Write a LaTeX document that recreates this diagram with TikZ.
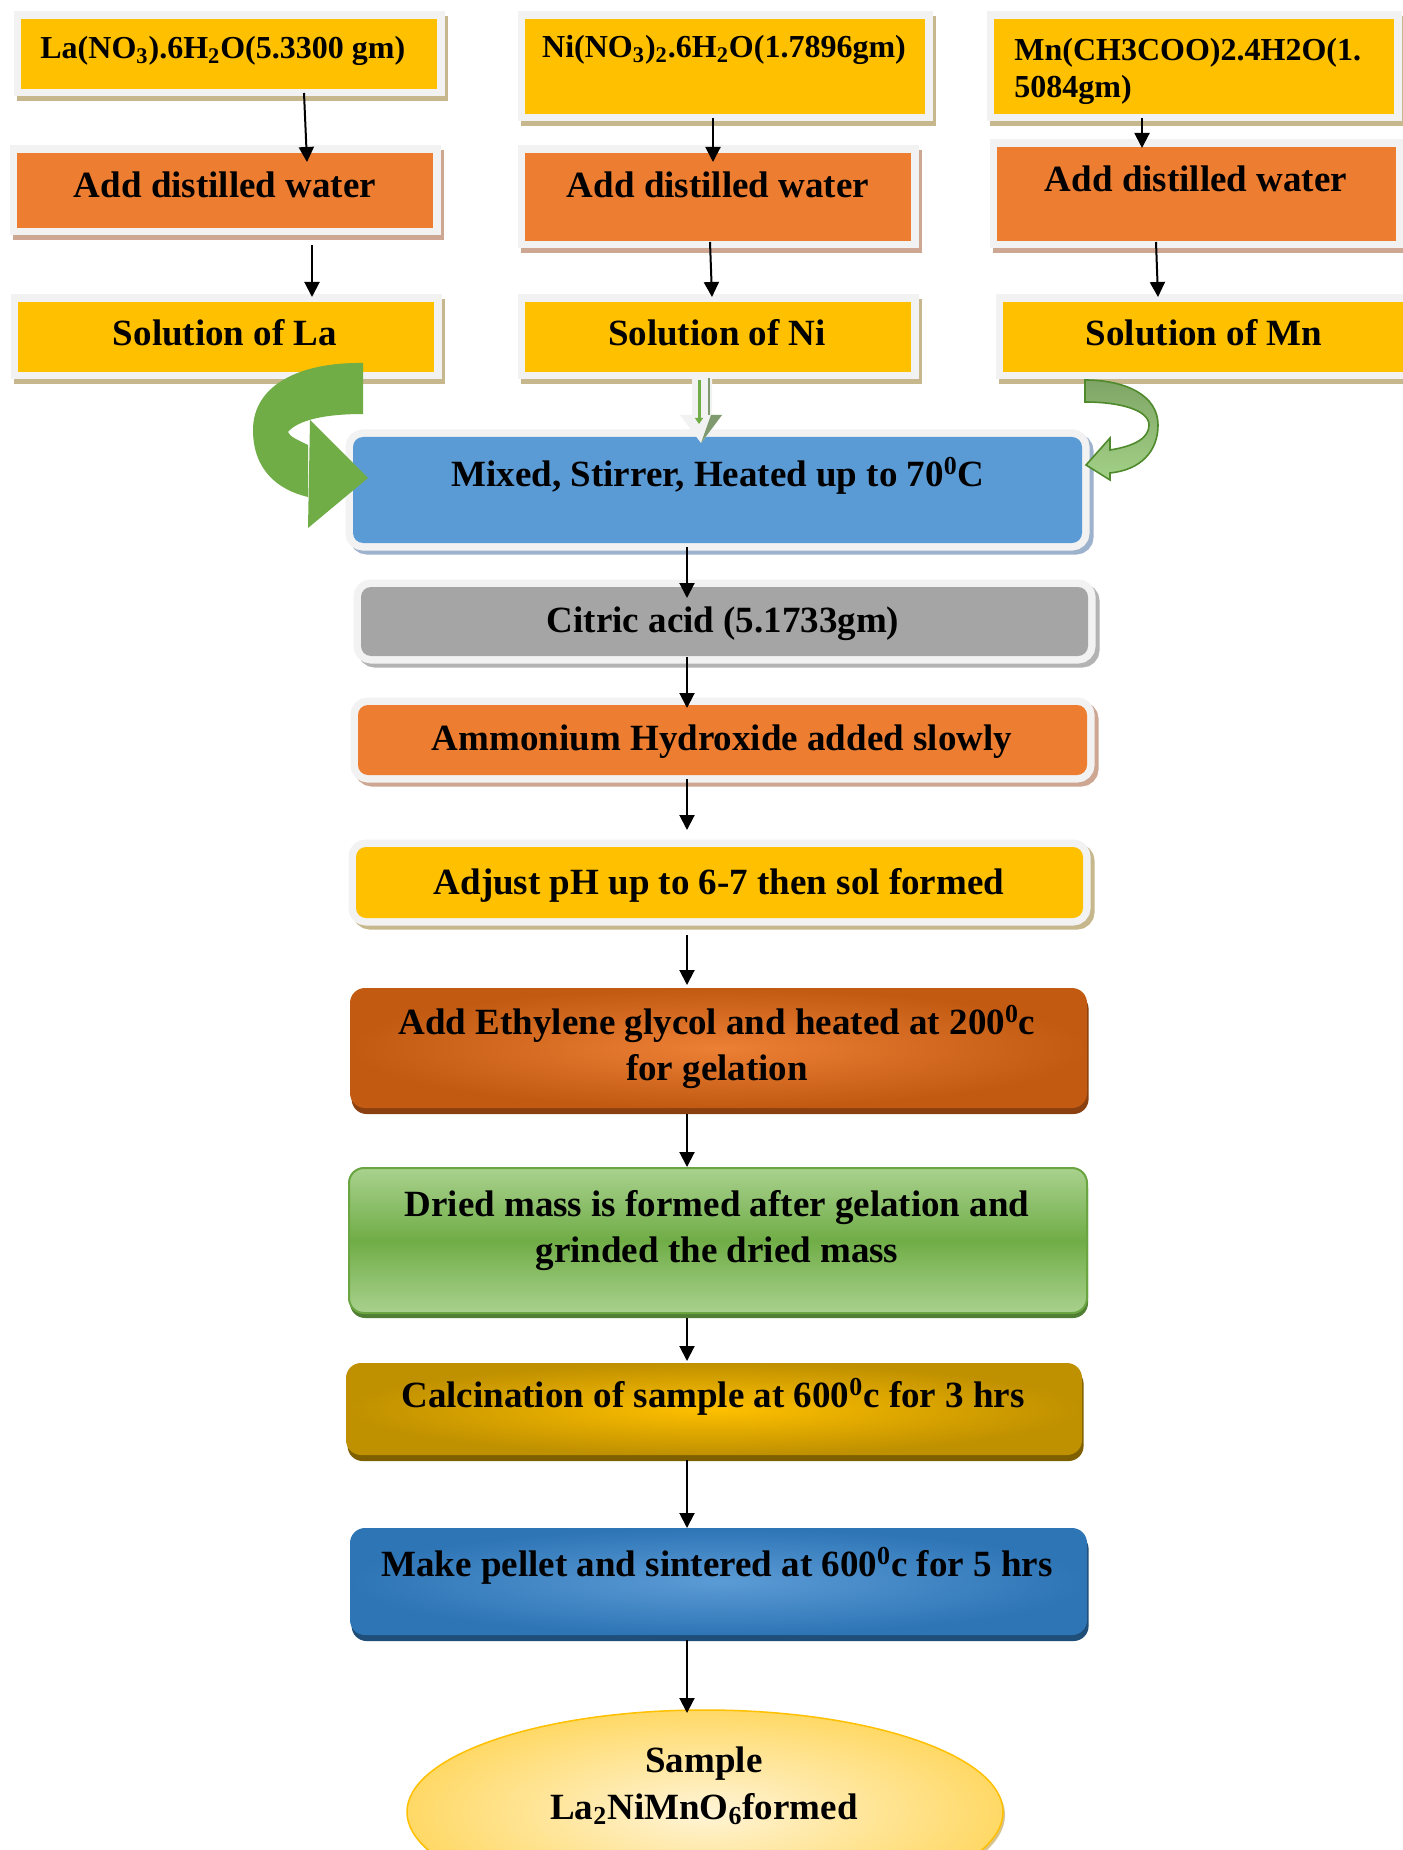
\documentclass[tikz,border=0pt]{standalone}
\usepackage{fontspec}
\setmainfont{Liberation Serif}
\usetikzlibrary{calc,arrows.meta,shapes.geometric}
\definecolor{yel}{HTML}{FFC000}
\definecolor{org}{HTML}{ED7D31}
\definecolor{blu}{HTML}{5B9BD5}
\definecolor{gry}{HTML}{A5A5A5}
\definecolor{frm}{HTML}{F2F2F2}
\definecolor{shY}{HTML}{C7B78C}
\definecolor{shO}{HTML}{CDA792}
\definecolor{shB}{HTML}{9DB2CC}
\definecolor{shG}{HTML}{B3B3B3}
\definecolor{ethIn}{HTML}{EC8035}
\definecolor{ethOut}{HTML}{C25A12}
\definecolor{ethSh}{HTML}{8A400F}
\definecolor{dryL}{HTML}{A9D18E}
\definecolor{dryM}{HTML}{70AD47}
\definecolor{dryB}{HTML}{6AA542}
\definecolor{drySh}{HTML}{507E32}
\definecolor{calIn}{HTML}{FFC000}
\definecolor{calOut}{HTML}{BF9000}
\definecolor{calSh}{HTML}{7F6000}
\definecolor{pelIn}{HTML}{5B9BD5}
\definecolor{pelOut}{HTML}{2E75B6}
\definecolor{pelSh}{HTML}{1F4E79}
\definecolor{ellIn}{HTML}{FFF4D6}
\definecolor{ellOut}{HTML}{FFD966}
\definecolor{ellB}{HTML}{FFC000}
\definecolor{ellSh}{HTML}{D8C48C}
\definecolor{grn}{HTML}{70AD47}
\definecolor{mnA}{HTML}{7FA566}
\definecolor{mnB}{HTML}{A3D187}
\definecolor{mnD}{HTML}{4E8A2C}
\definecolor{niSh}{HTML}{7E9A6E}
\newcommand\myBig{\fontsize{18.5}{23}\selectfont\bfseries}
\newcommand\mySmall{\fontsize{16}{18.5}\selectfont\bfseries}
\begin{document}
\begin{tikzpicture}[x=0.5pt,y=-0.5pt,
  arr/.style={line width=1pt,-{Triangle[length=7.5pt,width=7.5pt]}},
  txt/.style={inner sep=0pt,font=\myBig,text=black,align=center},
  stxt/.style={inner sep=0pt,font=\mySmall,text=black,align=left},
  sqbox/.style 2 args={rectangle,anchor=north west,inner sep=0pt,outer sep=0pt,fill=#1,
    preaction={fill=#2,draw=#2,line width=7.5pt,transform canvas={shift={(1.5pt,-2.5pt)}}},
    preaction={draw=frm,line width=7.5pt}},
  rdbox/.style 2 args={rectangle,anchor=north west,inner sep=0pt,outer sep=0pt,fill=#1,rounded corners=5pt,
    preaction={fill=#2,draw=#2,line width=7.5pt,transform canvas={shift={(2pt,-2pt)}}},
    preaction={draw=frm,line width=7.5pt}},
  gbox/.style n args={3}{rectangle,anchor=north west,inner sep=0pt,outer sep=0pt,rounded corners=7.5pt,
    inner color=#1,outer color=#2,
    preaction={fill=#3,transform canvas={shift={(0.8pt,-3pt)}}}}
]
\path[fill=white] (0,0) rectangle (1402,1850);
\useasboundingbox (0,0) rectangle (1402,1850);

% top row
\node[sqbox={yel}{shY},minimum width=208pt,minimum height=35pt] (laF) at (21,19) {};
\node[sqbox={org}{shO},minimum width=208pt,minimum height=37.5pt] (laW) at (17,153) {};
\node[sqbox={yel}{shY},minimum width=208pt,minimum height=35pt] (laS) at (18,302) {};
\node[sqbox={yel}{shY},minimum width=200pt,minimum height=47.5pt] (niF) at (525,19) {};
\node[sqbox={org}{shO},minimum width=193pt,minimum height=44pt] (niW) at (525,153) {};
\node[sqbox={yel}{shY},minimum width=193pt,minimum height=35pt] (niS) at (525,302) {};
\node[sqbox={yel}{shY},minimum width=200pt,minimum height=47.5pt] (mnF) at (994,19) {};
\node[sqbox={org}{shO},minimum width=199.5pt,minimum height=47pt] (mnW) at (997,147) {};
\node[sqbox={yel}{shY},minimum width=203.5pt,minimum height=35pt] (mnS) at (1003,302) {};

\node[stxt,anchor=west] (laFt) at (40,51) {La(NO\textsubscript{3}).6H\textsubscript{2}O(5.3300 gm)};
\node[txt] (laWt) at (225,185) {Add distilled water};
\node[txt] (laSt) at (225,333) {Solution of La};
\node[stxt] (niFt) at (724,50) {Ni(NO\textsubscript{3})\textsubscript{2}.6H\textsubscript{2}O(1.7896gm)};
\node[txt] (niWt) at (718,185) {Add distilled water};
\node[txt] (niSt) at (717,333) {Solution of Ni};
\node[stxt,anchor=west] (mnFt) at (1014,71) {Mn(CH3COO)2.4H2O(1.\\5084gm)};
\node[txt] (mnWt) at (1196,179) {Add distilled water};
\node[txt] (mnSt) at (1204,333) {Solution of Mn};

% middle column
\node[rdbox={blu}{shB},minimum width=364.5pt,minimum height=53pt] (mix) at (353,437) {};
\node[rdbox={gry}{shG},minimum width=363.5pt,minimum height=34.5pt] (cit) at (361,587) {};
\node[rdbox={org}{shO},minimum width=364.5pt,minimum height=35pt] (amm) at (358,705) {};
\node[rdbox={yel}{shY},minimum width=363.5pt,minimum height=35.5pt] (ph) at (356,847) {};
\node[gbox={ethIn}{ethOut}{ethSh},minimum width=368.5pt,minimum height=60pt] (eth) at (350,988) {};
\node[rectangle,anchor=north west,inner sep=0pt,outer sep=0pt,rounded corners=7.5pt,
  top color=dryL,bottom color=dryL,middle color=dryM,draw=dryB,line width=1pt,
  preaction={fill=drySh,transform canvas={shift={(0.5pt,-2.5pt)}}},
  minimum width=369pt,minimum height=72.5pt] (dry) at (349,1168) {};
\node[gbox={calIn}{calOut}{calSh},minimum width=368pt,minimum height=46pt] (cal) at (346,1363) {};
\node[gbox={pelIn}{pelOut}{pelSh},minimum width=368.5pt,minimum height=53.5pt] (pel) at (350,1528) {};
\node[ellipse,inner sep=0pt,outer sep=0pt,minimum width=298pt,minimum height=102pt,
  inner color=ellIn,outer color=ellOut,draw=ellB,line width=0.75pt,
  preaction={fill=ellSh,transform canvas={shift={(1pt,-1.5pt)}}}] (ell) at (705,1812) {};

\node[txt] (mixT) at (718,476) {Mixed, Stirrer, Heated up to 70\textsuperscript{0}C};
\node[txt] (citT) at (723,624) {Citric acid (5.1733gm)};
\node[txt] (ammT) at (722,742) {Ammonium Hydroxide added slowly};
\node[txt] (phT) at (719,885) {Adjust pH up to 6-7 then sol formed};
\node[txt] (ethT) at (717,1047) {Add Ethylene glycol and heated at 200\textsuperscript{0}c\\for gelation};
\node[txt,font=\fontsize{18.5}{23}\selectfont\bfseries] (dryT) at (717,1231) {Dried mass is formed after gelation and\\grinded the dried mass};
\node[txt] (calT) at (713,1397) {Calcination of sample at 600\textsuperscript{0}c for 3 hrs};
\node[txt] (pelT) at (717,1566) {Make pellet and sintered at 600\textsuperscript{0}c for 5 hrs};
\node[txt,font=\fontsize{18.5}{23.5}\selectfont\bfseries] (ellT) at (704,1786) {Sample\\La\textsubscript{2}NiMnO\textsubscript{6}formed};

% black connectors
\draw[arr] ($(laF.south)+(75,4)$) -- ($(laW.north)+(82,9)$);
\draw[arr] ($(laW.south)+(87,17)$) -- ($(laS.north)+(86,-5)$);
\draw[arr] ($(niF.south)+(-12,4)$) -- ($(niW.north)+(-5,9)$);
\draw[arr] ($(niW.south)+(-8,1)$) -- ($(niS.north)+(-6,-5)$);
\draw[arr] ($(mnF.south)+(-52,4)$) -- ($(mnW.north)+(-54.5,1)$);
\draw[arr] ($(mnW.south)+(-40.5,1)$) -- ($(mnS.north)+(-48.5,-5)$);
\draw[arr] ($(mix.south)+(-30.5,4)$) -- ($(cit.north)+(-37.5,11)$);
\draw[arr] ($(cit.south)+(-37.5,1)$) -- ($(amm.north)+(-35.5,3)$);
\draw[arr] ($(amm.south)+(-35.5,4)$) -- ($(ph.north)+(-32.5,-17)$);
\draw[arr] ($(ph.south)+(-32.5,17)$) -- ($(eth.north)+(-31.5,-3)$);
\draw[arr] ($(eth.south)+(-31.5,6)$) -- ($(dry.north)+(-31,-1)$);
\draw[arr] ($(dry.south)+(-31,5)$) -- ($(cal.north)+(-27,-2)$);
\draw[arr] ($(cal.south)+(-27,5)$) -- ($(pel.north)+(-31.5,0)$);
\draw[arr] ($(pel.south)+(-31.5,5)$) -- ($(ell.north)+(-18,3)$);

% green curved arrow from La
\fill[grn] (363,363) .. controls (300,362) and (253,385) .. (253,430)
  .. controls (253,470) and (278,490) .. (308,497) -- (308,445)
  .. controls (298,440) and (290,437) .. (288,432)
  .. controls (298,420) and (325,414) .. (363,414) -- cycle;
\fill[grn] (310,420) -- (368,478) -- (308,528) -- cycle;

% green curved arrow from Mn
\path[top color=mnA,bottom color=mnB,draw=mnD,line width=0.8pt]
  (1085,380) .. controls (1125,380) and (1158,395) .. (1158,425)
  .. controls (1158,452) and (1140,470) .. (1110,473) -- (1110,480) -- (1086,465) -- (1110,438) -- (1110,450)
  .. controls (1135,446) and (1149,438) .. (1149,425)
  .. controls (1149,410) and (1120,402) .. (1085,402) -- cycle;

% hollow arrow from Ni
\fill[frm] (692,378) -- (712,378) -- (712,415) -- (722,415) -- (701,443) -- (680,415) -- (692,415) -- cycle;
\fill[niSh] (711,415) -- (722,415) -- (701,443) -- cycle;
\draw[niSh,line width=1pt] (709,378) -- (709,415);
\draw[grn,line width=1.5pt,-{Triangle[length=3pt,width=4pt]}] (699,380) -- (699,424);
\end{tikzpicture}
\end{document}
